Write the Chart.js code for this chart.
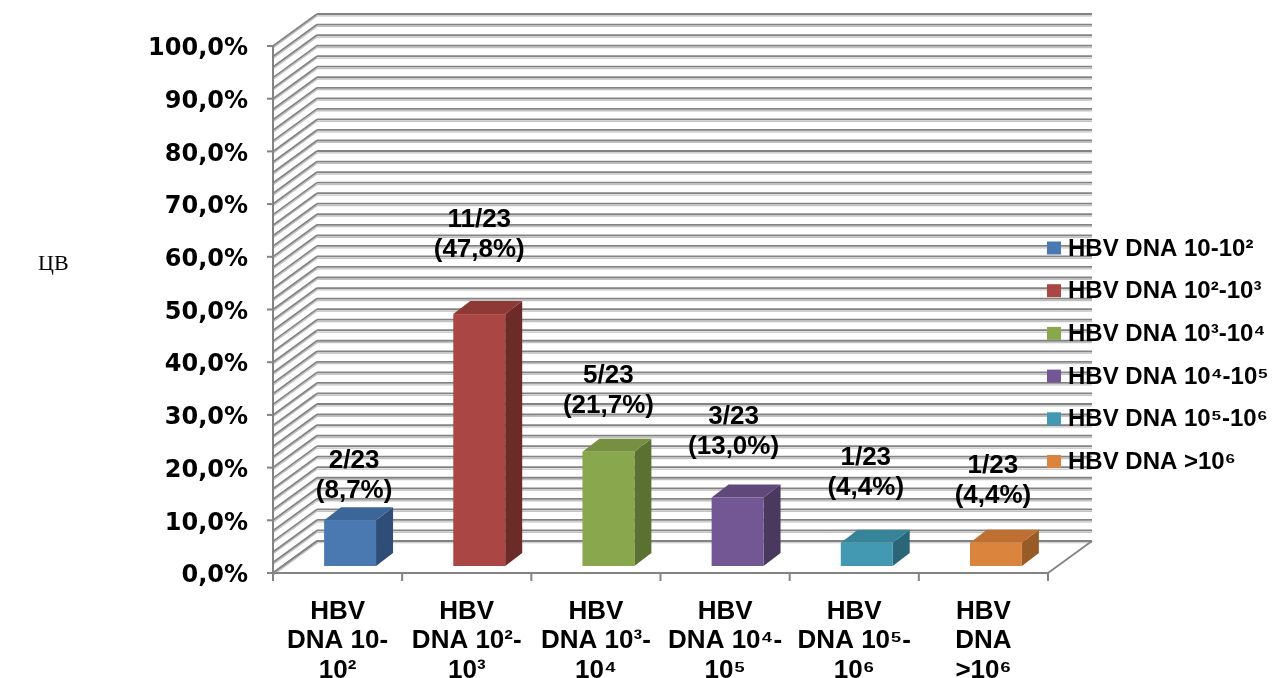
<!DOCTYPE html>
<html>
<head>
<meta charset="utf-8">
<title>HBV DNA</title>
<script src="https://cdn.jsdelivr.net/npm/chart.js@4.4.1/dist/chart.umd.min.js"></script>
<style>
  html, body { margin: 0; padding: 0; background: #ffffff; }
  #wrap { position: relative; width: 1272px; height: 678px; overflow: hidden; }
  #chart { position: absolute; left: 0; top: 0; }
  #sideNote { position: absolute; left: 38px; top: 250px; font: 22px "Liberation Serif", "DejaVu Serif", serif; color: #000; }
</style>
</head>
<body>
<div id="wrap">
  <canvas id="chart" width="1272" height="678"></canvas>
  <div id="sideNote">ЦВ</div>
</div>
<script>
// Category axis labels (multi-line)
const categoryLabels = [
  ["HBV", "DNA 10-", "10²"],
  ["HBV", "DNA 10²-", "10³"],
  ["HBV", "DNA 10³-", "10⁴"],
  ["HBV", "DNA 10⁴-", "10⁵"],
  ["HBV", "DNA 10⁵-", "10⁶"],
  ["HBV", "DNA", ">10⁶"]
];
// Legend entries
const legendNames = [
  "HBV DNA 10-10²",
  "HBV DNA 10²-10³",
  "HBV DNA 10³-10⁴",
  "HBV DNA 10⁴-10⁵",
  "HBV DNA 10⁵-10⁶",
  "HBV DNA >10⁶"
];
// Share of patients, %
const percentValues = [8.7, 47.8, 21.7, 13.0, 4.4, 4.4];
// Patient counts shown above each bar
const countLabels = ["2/23", "11/23", "5/23", "3/23", "1/23", "1/23"];
// Value axis
const yTickMin = 0;
const yTickMax = 100;
const yTickStep = 10;

// Face colours of the boxes: front, side, top
const palette = [
  { front: "#4A78B0", side: "#2E4D77", top: "#3C6598" },
  { front: "#AA4643", side: "#6C2A29", top: "#8E3936" },
  { front: "#89A84E", side: "#5A7132", top: "#768F41" },
  { front: "#735794", side: "#4A385F", top: "#5F497B" },
  { front: "#4399B1", side: "#2A6677", top: "#378397" },
  { front: "#DB843D", side: "#985A27", top: "#BE6F31" }
];

const fmtPct = v => v.toFixed(1).replace(".", ",") + "%";

// 3D projection offsets
const WALL_DX = 44, WALL_DY = -32;          // depth of the walls/floor
const BAR_SHIFT_X = 12.5, BAR_SHIFT_Y = -7; // bars stand halfway into the floor
const BAR_DX = 17, BAR_DY = -13;            // depth of each box

function seg(ctx, x1, y1, x2, y2) {
  ctx.beginPath(); ctx.moveTo(x1, y1); ctx.lineTo(x2, y2); ctx.stroke();
}
function gridLine(ctx, x1, y1, x2, y2) {
  ctx.strokeStyle = "#c2c2c2"; ctx.lineWidth = 1.3;
  seg(ctx, x1, y1 + 1.9, x2, y2 + 1.9);
  ctx.strokeStyle = "#838383"; ctx.lineWidth = 1.8;
  seg(ctx, x1, y1, x2, y2);
}

const box3d = {
  id: "box3d",
  beforeDatasetsDraw(chart, args, opts) {
    const ctx = chart.ctx;
    const ys = chart.scales.y;
    const L = chart.chartArea.left, R = chart.chartArea.right;
    const B = ys.getPixelForValue(0), T = ys.getPixelForValue(100);
    ctx.save();
    ctx.lineCap = "butt";

    // back wall and side wall grid, every 2%
    for (let v = 0; v <= 100; v += 2) {
      const yf = ys.getPixelForValue(v);
      gridLine(ctx, L + WALL_DX, yf + WALL_DY, R + WALL_DX, yf + WALL_DY);
      gridLine(ctx, L, yf, L + WALL_DX, yf + WALL_DY);
    }

    // floor: clear the band in front of the back wall
    ctx.fillStyle = "#ffffff";
    ctx.beginPath();
    ctx.moveTo(L, B); ctx.lineTo(L + WALL_DX, B + WALL_DY + 2.5);
    ctx.lineTo(R + WALL_DX, B + WALL_DY + 2.5); ctx.lineTo(R, B);
    ctx.closePath(); ctx.fill();
    gridLine(ctx, L, B, L + WALL_DX, B + WALL_DY);
    ctx.strokeStyle = "#838383"; ctx.lineWidth = 1.8;
    seg(ctx, R, B, R + WALL_DX, B + WALL_DY);

    // value axis line and tick marks
    ctx.strokeStyle = "#838383"; ctx.lineWidth = 2;
    seg(ctx, L, T, L, B);
    for (let v = yTickMin; v <= yTickMax; v += yTickStep) {
      const y = ys.getPixelForValue(v);
      seg(ctx, L - 6, y, L, y);
    }
    // category axis line and tick marks
    seg(ctx, L, B, R, B);
    const n = categoryLabels.length;
    for (let i = 0; i <= n; i++) {
      const x = L + (R - L) * i / n;
      seg(ctx, x, B, x, B + 8);
    }

    // bars as boxes
    const meta = chart.getDatasetMeta(0);
    meta.data.forEach((bar, i) => {
      const p = bar.getProps(["x", "y", "base", "width"], true);
      const c = palette[i];
      const x0 = p.x - p.width / 2 + BAR_SHIFT_X, x1 = p.x + p.width / 2 + BAR_SHIFT_X;
      const yt = p.y + BAR_SHIFT_Y, yb = p.base + BAR_SHIFT_Y;
      // side
      ctx.fillStyle = c.side;
      ctx.beginPath();
      ctx.moveTo(x1, yt); ctx.lineTo(x1 + BAR_DX, yt + BAR_DY);
      ctx.lineTo(x1 + BAR_DX, yb + BAR_DY); ctx.lineTo(x1, yb);
      ctx.closePath(); ctx.fill();
      // top
      ctx.fillStyle = c.top;
      ctx.beginPath();
      ctx.moveTo(x0, yt); ctx.lineTo(x0 + BAR_DX, yt + BAR_DY);
      ctx.lineTo(x1 + BAR_DX, yt + BAR_DY); ctx.lineTo(x1, yt);
      ctx.closePath(); ctx.fill();
      // front
      ctx.fillStyle = c.front;
      ctx.fillRect(x0, yt, x1 - x0, yb - yt);
    });

    // value labels
    ctx.fillStyle = "#000";
    ctx.font = "bold 26px 'Liberation Sans', Arial, sans-serif";
    ctx.textAlign = "center";
    ctx.textBaseline = "middle";
    meta.data.forEach((bar, i) => {
      const p = bar.getProps(["x", "y"], true);
      const cx = p.x + BAR_SHIFT_X + opts.labelShiftX[i];
      const y2 = p.y + BAR_SHIFT_Y - opts.labelLift[i];
      ctx.fillText(countLabels[i], cx, y2 - 30);
      ctx.fillText("(" + fmtPct(percentValues[i]) + ")", cx, y2);
    });

    // legend
    ctx.textAlign = "left";
    ctx.font = "bold 24px 'Liberation Sans', Arial, sans-serif";
    legendNames.forEach((name, i) => {
      const cy = opts.legendTop + i * opts.legendStep;
      ctx.fillStyle = palette[i].front;
      ctx.fillRect(opts.legendX, cy - 6.5, 14, 13);
      ctx.fillStyle = "#000";
      ctx.fillText(name, opts.legendX + 21, cy + 1);
    });

    ctx.restore();
    return false;
  }
};

new Chart(document.getElementById("chart"), {
  type: "bar",
  data: {
    labels: categoryLabels,
    datasets: [{
      label: "HBV DNA",
      data: percentValues,
      backgroundColor: palette.map(c => c.front),
      categoryPercentage: 1,
      barPercentage: 0.402
    }]
  },
  options: {
    responsive: false,
    animation: false,
    events: [],
    layout: { padding: { top: 46, right: 224, left: 0, bottom: 0 } },
    plugins: {
      legend: { display: false },
      tooltip: { enabled: false },
      box3d: {
        labelLift: [29, 64, 46, 51, 55, 47],
        labelShiftX: [4, 0, 0, -4, -1, -3],
        legendX: 1047,
        legendTop: 248,
        legendStep: 42.7
      }
    },
    scales: {
      x: {
        afterFit: s => { s.height = 105; },
        grid: { display: false },
        border: { display: false },
        ticks: {
          autoSkip: false,
          maxRotation: 0,
          minRotation: 0,
          padding: 16,
          color: "#000",
          font: { family: "'Liberation Sans', Arial, sans-serif", size: 26, weight: "bold", lineHeight: 1.13 }
        }
      },
      y: {
        min: yTickMin,
        max: yTickMax,
        afterFit: s => { s.width = 273; },
        grid: { display: false },
        border: { display: false },
        ticks: {
          stepSize: yTickStep,
          padding: 17,
          labelOffset: 3,
          color: "#000",
          callback: v => fmtPct(v),
          font: { family: "'DejaVu Sans', sans-serif", size: 24, weight: "bold" }
        }
      }
    }
  },
  plugins: [box3d]
});
</script>
</body>
</html>
